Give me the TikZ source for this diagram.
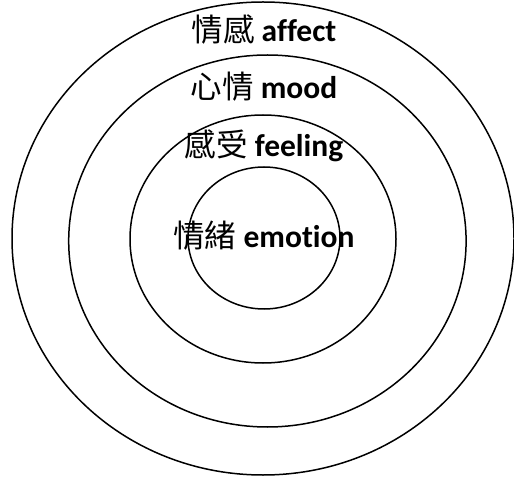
\documentclass[tikz,border=0pt]{standalone}
\usepackage{fontspec}
\setmainfont{Carlito}[Ligatures=CommonOff]
\newfontfamily\cjk{Noto Sans CJK TC}
\begin{document}
\begin{tikzpicture}[x=1pt,y=-1pt,
  ring/.style={draw=black,line width=1.5pt},
  lbl/.style={anchor=base,inner sep=0pt,font=\fontsize{31.5}{36}\selectfont}]
\useasboundingbox (0,0) rectangle (514,478);
\draw[ring] (263,238.5) ellipse [x radius=251,y radius=236.5];
\draw[ring] (267.4,241) ellipse [x radius=198.7,y radius=186];
\draw[ring] (263,239) ellipse [x radius=133,y radius=124];
\draw[ring] (264,238) ellipse [x radius=76,y radius=71];
\node[lbl] (affect) at (264,42) {{\cjk 情感} \textbf{affect}};
\node[lbl] (mood) at (264,99) {{\cjk 心情} \textbf{mood}};
\node[lbl] (feeling) at (264,157) {{\cjk 感受} \textbf{feeling}};
\node[lbl] (emotion) at (264,248) {{\cjk 情緒} \textbf{emotion}};
\end{tikzpicture}
\end{document}
